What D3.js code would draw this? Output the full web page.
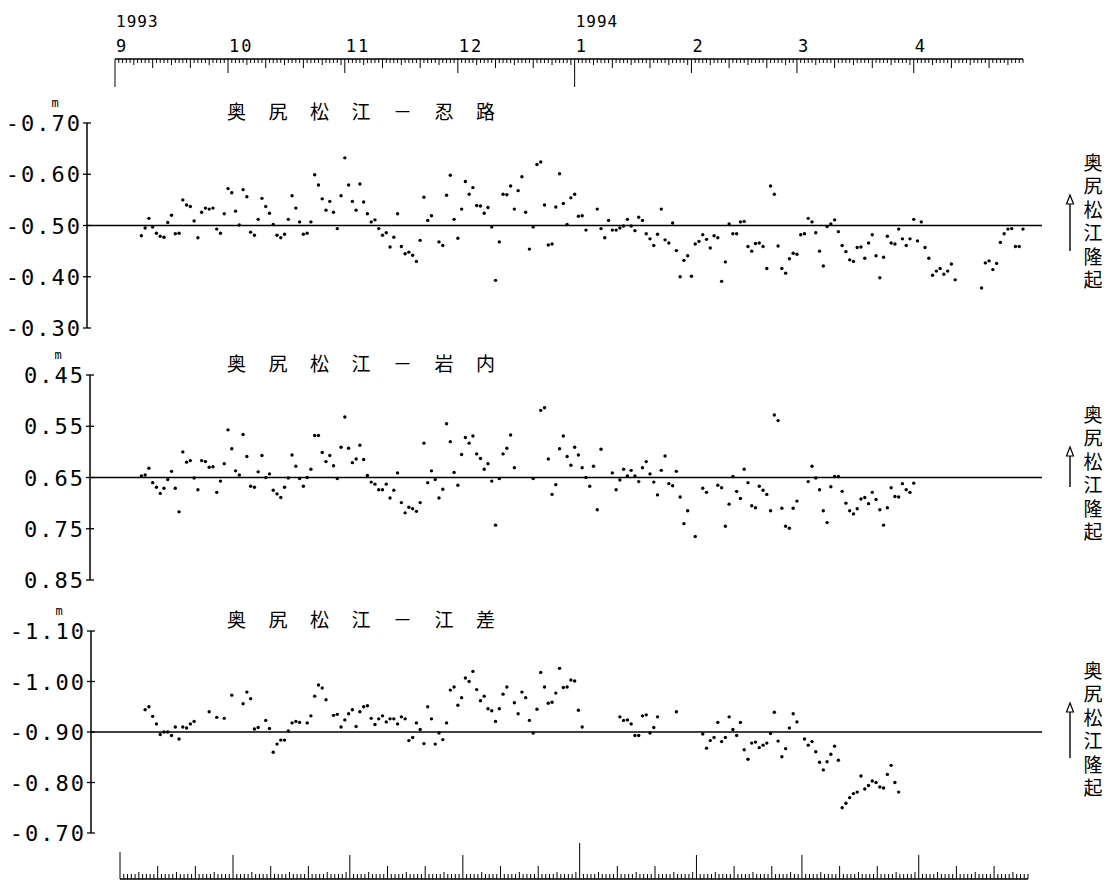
<!DOCTYPE html>
<html>
<head>
<meta charset="utf-8">
<script src="https://cdn.jsdelivr.net/npm/d3@7"></script>
<style>
  body { margin: 0; background: #fff; }
  text { fill: #000; }
</style>
</head>
<body>
<svg id="vis" width="1111" height="885"></svg>
<script>
// daily values, index 0 = 1993-09-01, null = no reading
const startDay = "1993-09-01";
const endDay = "1994-04-30";

// 奥尻松江 - 忍路 (m)
const oshoro = [null,null,null,null,null,null,null,
  -0.480,-0.495,-0.514,-0.497,-0.485,-0.479,-0.477,-0.506,-0.520,-0.484,
  -0.485,-0.550,-0.540,-0.537,-0.509,-0.476,-0.526,-0.534,-0.532,-0.534,
  -0.493,-0.485,-0.523,-0.572,-0.564,-0.528,-0.501,-0.570,-0.556,-0.487,
  -0.481,-0.512,-0.553,-0.537,-0.524,-0.502,-0.481,-0.476,-0.483,-0.512,
  -0.558,-0.534,-0.507,-0.483,-0.485,-0.507,-0.599,-0.579,-0.552,-0.530,
  -0.547,-0.526,-0.494,-0.558,-0.632,-0.579,-0.547,-0.530,-0.581,-0.546,
  -0.523,-0.507,-0.511,-0.494,-0.481,-0.486,-0.458,-0.477,-0.523,-0.459,
  -0.445,-0.448,-0.442,-0.430,-0.471,-0.555,-0.510,-0.519,null,-0.468,
  -0.461,-0.559,-0.598,-0.512,-0.475,-0.532,-0.586,-0.561,-0.574,-0.539,
  -0.538,-0.524,-0.535,-0.497,-0.393,-0.468,-0.561,-0.560,-0.577,-0.532,
  -0.568,-0.595,-0.526,-0.454,-0.497,-0.619,-0.624,-0.540,-0.462,-0.464,
  -0.536,-0.601,-0.543,-0.502,-0.554,-0.561,-0.518,-0.519,-0.491,null,
  null,-0.532,-0.494,-0.476,-0.510,-0.491,-0.491,-0.495,-0.499,-0.512,
  -0.499,-0.490,-0.516,-0.510,-0.484,-0.474,-0.461,-0.483,-0.532,-0.472,
  -0.466,-0.505,-0.451,-0.400,-0.432,-0.441,-0.401,-0.464,-0.469,-0.482,
  -0.473,-0.456,-0.480,-0.476,-0.391,-0.429,-0.503,-0.484,-0.484,-0.507,
  -0.508,-0.459,-0.450,-0.465,-0.466,-0.459,-0.416,-0.577,-0.561,-0.460,
  -0.416,-0.407,-0.435,-0.446,-0.444,-0.482,-0.484,-0.514,-0.507,-0.486,
  -0.450,-0.421,-0.498,-0.503,-0.511,-0.488,-0.461,-0.449,-0.433,-0.430,
  -0.457,-0.458,-0.436,-0.466,-0.482,-0.441,-0.398,-0.438,-0.479,-0.466,
  -0.464,-0.493,-0.474,-0.461,-0.474,-0.512,-0.470,-0.507,-0.457,-0.436,
  -0.403,-0.411,-0.416,-0.405,-0.411,-0.425,-0.394,null,null,null,
  null,null,null,-0.378,-0.427,-0.431,-0.414,-0.426,-0.467,-0.484,
  -0.493,-0.494,-0.459,-0.459,-0.493];

// 奥尻松江 - 岩内 (m)
const iwanai = [null,null,null,null,null,null,null,
  0.647,0.645,0.632,0.660,0.669,0.681,0.671,0.654,0.638,0.671,
  0.717,0.600,0.620,0.617,0.651,0.674,0.617,0.619,0.630,0.629,
  0.679,0.657,0.623,0.557,0.594,0.637,0.645,0.566,0.609,0.667,
  0.669,0.639,0.607,0.650,0.643,0.675,0.682,0.689,0.669,0.651,
  0.606,0.628,0.652,0.667,0.650,0.634,0.568,0.568,0.601,0.619,
  0.607,0.627,0.652,0.591,0.532,0.593,0.621,0.614,0.587,0.615,
  0.646,0.659,0.663,0.674,0.674,0.663,0.690,0.675,0.641,0.699,
  0.719,0.708,0.711,0.716,0.699,0.583,0.660,0.637,0.654,0.690,
  0.673,0.545,0.580,0.640,0.665,0.605,0.572,0.583,0.569,0.604,
  0.613,0.634,0.623,0.657,0.743,0.652,0.604,0.593,0.567,0.631,
  null,null,null,null,0.652,null,0.519,0.514,0.614,0.683,
  0.664,0.594,0.569,0.609,0.626,0.591,0.606,0.631,0.650,0.667,
  0.628,0.713,0.595,null,null,0.641,0.674,0.655,0.634,0.647,
  0.636,0.647,0.658,0.631,0.619,0.643,0.659,0.684,0.636,0.608,
  0.662,0.666,0.638,0.688,0.740,0.715,null,0.765,null,0.671,
  0.679,null,null,0.665,0.670,0.745,0.702,0.648,0.677,0.691,
  0.634,0.660,0.705,0.709,0.667,0.675,0.683,0.715,0.528,0.539,
  0.710,0.745,0.749,0.710,0.696,null,null,0.658,0.628,0.651,
  0.674,0.715,0.738,0.668,0.648,0.648,0.677,0.700,0.715,0.721,
  0.711,0.692,0.689,0.701,0.679,0.693,0.713,0.743,0.709,0.670,
  0.687,0.688,0.662,0.674,0.679,0.661];

// 奥尻松江 - 江差 (m)
const esashi = [null,null,null,null,null,null,null,null,
  -0.944,-0.950,-0.931,-0.916,-0.895,-0.900,-0.900,-0.893,-0.910,-0.886,
  -0.910,-0.908,-0.916,-0.921,null,null,null,-0.940,null,-0.929,
  null,-0.927,null,-0.973,null,null,-0.956,-0.979,-0.966,-0.906,
  -0.909,null,-0.923,-0.907,-0.860,-0.876,-0.884,-0.884,-0.902,-0.918,
  -0.921,-0.919,null,-0.918,-0.932,-0.971,-0.993,-0.987,-0.964,null,
  -0.933,-0.935,-0.910,-0.924,-0.936,-0.944,-0.911,-0.940,-0.950,-0.952,
  -0.927,-0.915,-0.926,-0.932,-0.920,-0.926,-0.926,-0.916,-0.930,-0.926,
  -0.883,-0.889,-0.918,-0.905,-0.877,-0.950,-0.926,-0.876,-0.898,-0.885,
  -0.918,-0.983,-0.989,-0.953,-0.968,-1.007,-1.000,-1.020,-0.984,-0.962,
  -0.971,-0.946,-0.942,-0.921,-0.946,-0.975,-0.989,null,-0.958,-0.936,
  -0.979,-0.968,-0.923,-0.898,-0.945,-1.018,-0.989,-0.957,-0.959,-0.977,
  -1.026,-0.988,-0.989,-1.003,-1.001,-0.943,-0.910,null,null,null,
  null,null,null,null,null,null,-0.930,-0.923,-0.924,-0.916,
  -0.893,-0.893,-0.932,-0.934,-0.898,-0.909,-0.930,null,null,null,
  null,-0.940,null,null,null,null,null,null,-0.896,-0.868,
  -0.883,-0.889,-0.919,-0.881,-0.889,-0.930,-0.905,-0.893,-0.919,-0.865,
  -0.846,-0.878,-0.880,-0.869,-0.874,-0.878,-0.897,-0.939,-0.882,-0.851,
  -0.867,-0.908,-0.936,-0.920,null,-0.886,-0.874,-0.881,-0.861,-0.840,
  -0.825,-0.841,-0.856,-0.872,-0.844,-0.750,-0.759,-0.770,-0.778,-0.781,
  -0.813,-0.787,-0.794,-0.803,-0.800,-0.791,-0.789,-0.816,-0.834,-0.800,-0.781];

const panelTitles = ["奥尻松江－忍路", "奥尻松江－岩内", "奥尻松江－江差"];
const tickVals = [
  [-0.70, -0.60, -0.50, -0.40, -0.30],
  [0.45, 0.55, 0.65, 0.75, 0.85],
  [-1.10, -1.00, -0.90, -0.80, -0.70]
];
const tickText = [
  ["-0.70", "-0.60", "-0.50", "-0.40", "-0.30"],
  ["0.45", "0.55", "0.65", "0.75", "0.85"],
  ["-1.10", "-1.00", "-0.90", "-0.80", "-0.70"]
];
const refLevels = [-0.50, 0.65, -0.90];
const monthLabels = ["9", "10", "11", "12", "1", "2", "3", "4"];
const yearLabels = ["1993", "1994"];
const yearStarts = ["1993-09-01", "1994-01-01"];
const sideLabel = "奥尻松江隆起";
const unitLabel = "m";

// layout
const panelTop = [123, 375, 631];
const panelH = [205, 205, 202];
const axisX = [87, 90, 91];
const refEnd = 1042;
const rulerTopY = 59, rulerBotY = 879;
const sideX = 1093, arrowX = 1070;
const arrowLen = [56, 40, 55];

const svg = d3.select("#vis");
const parse = d3.timeParse("%Y-%m-%d");
const t0 = parse(startDay), t1 = parse(endDay);

const x = d3.scaleTime().domain([t0, t1]).range([115, 1023]);
const xb = d3.scaleTime().domain([t0, t1]).range([120, 1028]);

const days = d3.timeDay.range(t0, d3.timeDay.offset(t1, 1));
const monthStarts = days.filter(d => d.getDate() === 1);

// tick lengths for the date rulers
function topLen(d) {
  const dd = d.getDate();
  if (+d === +t0 || (dd === 1 && d.getMonth() === 0)) return 28;
  if (dd === 1) return 14;
  if (dd === 11 || dd === 21) return 9;
  if (dd % 5 === 1) return 6;
  return 4;
}
function botLen(d) {
  const dd = d.getDate();
  if (dd === 1 && d.getMonth() === 0) return 36;
  if (+d === +t0) return 27;
  if (dd === 1) return 24;
  if (dd === 11 || dd === 21) return 13;
  if (dd % 5 === 1) return 7;
  return 5;
}

// top ruler, ticks hang down
const rulerTop = svg.append("g");
rulerTop.append("line")
  .attr("x1", x(t0)).attr("x2", x(t1))
  .attr("y1", rulerTopY).attr("y2", rulerTopY)
  .attr("stroke", "#000").attr("stroke-width", 1.4);
rulerTop.selectAll(".tt").data(days).enter().append("line")
  .attr("x1", d => x(d)).attr("x2", d => x(d))
  .attr("y1", rulerTopY).attr("y2", d => rulerTopY + topLen(d))
  .attr("stroke", "#000").attr("stroke-width", 1);
rulerTop.selectAll(".ml").data(monthStarts).enter().append("text")
  .attr("x", d => x(d) + 1).attr("y", rulerTopY - 7)
  .attr("font-family", "DejaVu Sans Mono").attr("font-size", 17)
  .attr("letter-spacing", 2)
  .text((d, i) => monthLabels[i]);
rulerTop.selectAll(".yl").data(yearLabels).enter().append("text")
  .attr("x", (d, i) => x(parse(yearStarts[i])) + 1).attr("y", 27)
  .attr("font-family", "DejaVu Sans Mono").attr("font-size", 16)
  .attr("letter-spacing", 1)
  .text(d => d);

// bottom ruler, ticks stand up
const rulerBot = svg.append("g");
rulerBot.append("line")
  .attr("x1", xb(t0)).attr("x2", xb(t1))
  .attr("y1", rulerBotY).attr("y2", rulerBotY)
  .attr("stroke", "#000").attr("stroke-width", 1.4);
rulerBot.selectAll(".bt").data(days).enter().append("line")
  .attr("x1", d => xb(d)).attr("x2", d => xb(d))
  .attr("y1", rulerBotY).attr("y2", d => rulerBotY - botLen(d))
  .attr("stroke", "#000").attr("stroke-width", 1);

// panels
const series = [oshoro, iwanai, esashi];
series.forEach((vals, p) => {
  const y0 = panelTop[p], y1 = panelTop[p] + panelH[p];
  const dom = tickVals[p];
  const y = d3.scaleLinear().domain([dom[0], dom[dom.length - 1]]).range([y0, y1]);
  const ax = axisX[p];
  const g = svg.append("g");

  g.append("line")
    .attr("x1", ax).attr("x2", ax).attr("y1", y0).attr("y2", y1)
    .attr("stroke", "#000").attr("stroke-width", 1.5);
  g.selectAll(".tk").data(dom).enter().append("line")
    .attr("x1", ax - 4).attr("x2", ax + 4)
    .attr("y1", d => y(d)).attr("y2", d => y(d))
    .attr("stroke", "#000").attr("stroke-width", 1.3);
  g.selectAll(".tl").data(dom).enter().append("text")
    .attr("x", ax - 5).attr("y", d => y(d) + 8)
    .attr("text-anchor", "end")
    .attr("font-family", "DejaVu Sans Mono").attr("font-size", 22)
    .attr("letter-spacing", 2)
    .text((d, i) => tickText[p][i]);
  g.append("text")
    .attr("x", ax - 32).attr("y", y0 - 16)
    .attr("text-anchor", "middle")
    .attr("font-family", "DejaVu Sans Mono").attr("font-size", 12)
    .text(unitLabel);

  // reference line
  g.append("line")
    .attr("x1", ax).attr("x2", refEnd)
    .attr("y1", y(refLevels[p])).attr("y2", y(refLevels[p]))
    .attr("stroke", "#000").attr("stroke-width", 1.5);

  // title
  g.append("text")
    .attr("x", 227).attr("y", y0 - 4)
    .attr("font-family", "Noto Sans CJK JP").attr("font-size", 19)
    .attr("letter-spacing", 22.5)
    .text(panelTitles[p]);

  // dots
  const pts = vals.map((v, i) => ({ t: d3.timeDay.offset(t0, i), v: v }))
    .filter(d => d.v !== null);
  g.selectAll(".dot").data(pts).enter().append("circle")
    .attr("cx", d => x(d.t)).attr("cy", d => y(d.v))
    .attr("r", 1.7).attr("fill", "#000");

  // side label (vertical) with up arrow
  const sy = y0 + 40;
  g.append("text")
    .attr("x", sideX).attr("y", sy - 10)
    .attr("font-family", "Noto Sans CJK JP").attr("font-size", 19)
    .attr("letter-spacing", 4.5)
    .style("writing-mode", "vertical-rl")
    .text(sideLabel);
  const aTop = sy + 32, aBot = aTop + arrowLen[p];
  g.append("line")
    .attr("x1", arrowX).attr("x2", arrowX).attr("y1", aTop + 8).attr("y2", aBot)
    .attr("stroke", "#000").attr("stroke-width", 1.4);
  g.append("path")
    .attr("d", `M${arrowX},${aTop} L${arrowX - 3.5},${aTop + 9} L${arrowX + 3.5},${aTop + 9} Z`)
    .attr("fill", "#fff").attr("stroke", "#000").attr("stroke-width", 1.2);
});
</script>
</body>
</html>
